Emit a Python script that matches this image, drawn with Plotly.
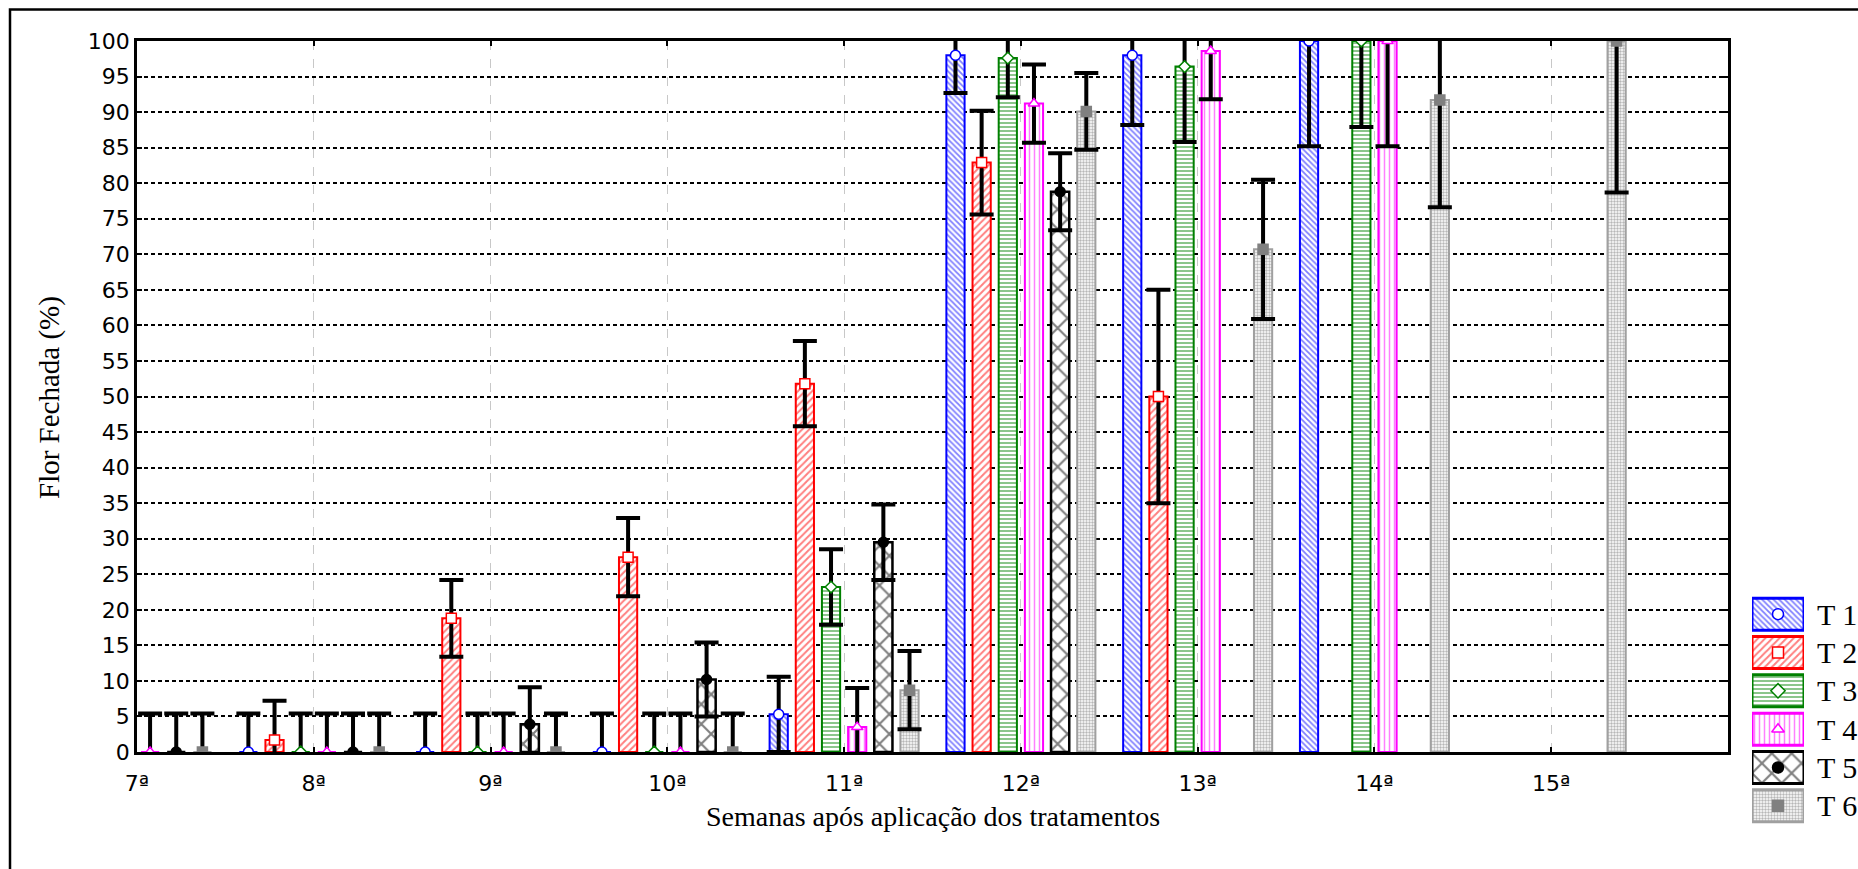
import plotly.graph_objects as go

# ---------------- data ----------------
weeks = [7, 8, 9, 10, 11, 12, 13, 14, 15]
week_labels = ["7ª", "8ª", "9ª", "10ª", "11ª", "12ª", "13ª", "14ª", "15ª"]
treatments = ["T 1", "T 2", "T 3", "T 4", "T 5", "T 6"]

t1_mean = [0, 0, 0, 0, 5.3, 98.0, 98.0, 100, None]
t1_err = [5.4, 5.4, 5.4, 5.4, 5.3, 5.3, 9.8, 14.8, None]
t2_mean = [0, 1.7, 18.8, 27.4, 51.8, 82.9, 50.0, None, None]
t2_err = [5.4, 5.5, 5.4, 5.5, 6.0, 7.3, 15.0, None, None]
t3_mean = [0, 0, 0, 0, 23.2, 97.6, 96.4, 100, None]
t3_err = [5.4, 5.4, 5.4, 5.4, 5.3, 5.5, 10.6, 12.1, None]
t4_mean = [0, 0, 0, 0, 3.5, 91.2, 98.6, 100, None]
t4_err = [5.4, 5.4, 5.4, 5.4, 5.5, 5.5, 6.8, 14.8, None]
t5_mean = [0, 0, 3.9, 10.2, 29.5, 78.8, None, None, None]
t5_err = [5.4, 5.4, 5.2, 5.2, 5.3, 5.4, None, None, None]
t6_mean = [0, 0, 0, 0, 8.7, 90.1, 70.7, 91.7, 100]
t6_err = [5.4, 5.4, 5.4, 5.4, 5.5, 5.4, 9.8, 15.1, 21.3]

means = [t1_mean, t2_mean, t3_mean, t4_mean, t5_mean, t6_mean]
errs = [t1_err, t2_err, t3_err, t4_err, t5_err, t6_err]

# ---------------- styles ----------------
styles = [
    dict(line="#0000ff", lw=2, shape="\\", fg="#0000ff", size=4, sol=0.45,
         sym="circle", mfill="white", mline="#0000ff", ms=10),
    dict(line="#ff0000", lw=2, shape="/", fg="#ff0000", size=5, sol=0.4,
         sym="square", mfill="white", mline="#ff0000", ms=10),
    dict(line="#008000", lw=2, shape="-", fg="#008000", size=4, sol=0.45,
         sym="diamond", mfill="white", mline="#008000", ms=9),
    dict(line="#ff00ff", lw=2, shape="|", fg="#ff00ff", size=5, sol=0.3,
         sym="triangle-up", mfill="white", mline="#ff00ff", ms=10),
    dict(line="#000000", lw=2.5, shape="x", fg="#000000", size=14, sol=0.28,
         sym="circle", mfill="#000000", mline="#000000", ms=10),
    dict(line="#a0a0a0", lw=2, shape=".", fg="#707070", size=3, sol=0.5,
         sym="square", mfill="#808080", mline="#808080", ms=10),
]

SLOT = 0.148
BAR_W = 0.103

W, H = 1858, 869
ML, MR, MT, MB = 137, 8, 41, 40
PW = W - ML - MR
PH = H - MT - MB

def px_x(p):
    return (p - ML) / PW

def px_y(p):
    return 1 - (p - MT) / PH

fig = go.Figure()

# bars with error bars
for i, (name, m, e, st) in enumerate(zip(treatments, means, errs, styles)):
    off = (i - 2.5) * SLOT
    xs = [w + off for w in weeks]
    fig.add_trace(go.Bar(
        x=xs, y=m, width=BAR_W, name=name, showlegend=False,
        marker=dict(color="white", line=dict(color=st["line"], width=st["lw"]),
                    pattern=dict(shape=st["shape"], fgcolor=st["fg"], bgcolor="white",
                                 size=st["size"], solidity=st["sol"], fillmode="overlay")),
        error_y=dict(type="data", array=e, visible=True, color="black",
                     thickness=4, width=12),
        xaxis="x", yaxis="y",
    ))

# markers at top of bars
for i, (name, m, st) in enumerate(zip(treatments, means, styles)):
    off = (i - 2.5) * SLOT
    xs = [w + off for w in weeks]
    fig.add_trace(go.Scatter(
        x=xs, y=m, mode="markers", showlegend=False, cliponaxis=True,
        marker=dict(symbol=st["sym"], color=st["mfill"], size=st["ms"],
                    line=dict(color=st["mline"], width=1.5)),
        xaxis="x", yaxis="y",
    ))

# legend drawn as a small bar chart
fig.add_trace(go.Bar(
    x=[1] * len(treatments), y=treatments, base=0, orientation="h", width=0.833,
    showlegend=False, xaxis="x2", yaxis="y2",
    marker=dict(color="white",
                line=dict(color=[s["line"] for s in styles], width=3),
                pattern=dict(shape=[s["shape"] for s in styles],
                             fgcolor=[s["fg"] for s in styles],
                             bgcolor="white",
                             size=[s["size"] for s in styles],
                             solidity=[s["sol"] for s in styles],
                             fillmode="overlay")),
))
fig.add_trace(go.Scatter(
    x=[0.5] * len(treatments), y=treatments, mode="markers", showlegend=False,
    xaxis="x2", yaxis="y2",
    marker=dict(symbol=[s["sym"] for s in styles], color=[s["mfill"] for s in styles],
                size=11, line=dict(color=[s["mline"] for s in styles], width=1.5)),
))

annotations = []
for name in treatments:
    annotations.append(dict(
        text=name, xref="paper", yref="y2", x=px_x(1815), y=name,
        xanchor="left", yanchor="middle", showarrow=False,
        font=dict(family="Liberation Serif", size=30, color="black"),
    ))

annotations.append(dict(
    text="Flor Fechada (%)", xref="paper", yref="paper",
    x=px_x(50), y=px_y(398), textangle=-90, showarrow=False,
    xanchor="center", yanchor="middle",
    font=dict(family="Liberation Serif", size=29, color="black"),
))
annotations.append(dict(
    text="Semanas após aplicação dos tratamentos", xref="paper", yref="paper",
    x=px_x(933), y=px_y(816), showarrow=False,
    xanchor="center", yanchor="middle",
    font=dict(family="Liberation Serif", size=28, color="black"),
))

fig.update_layout(
    width=W, height=H,
    margin=dict(l=ML, r=MR, t=MT, b=MB),
    paper_bgcolor="white", plot_bgcolor="white",
    barmode="overlay",
    font=dict(family="DejaVu Sans", color="black"),
    xaxis=dict(
        domain=[0, px_x(1728)], anchor="y",
        range=[7, 16], tickvals=weeks, ticktext=week_labels,
        tickfont=dict(family="DejaVu Sans", size=22, color="black"),
        ticks="inside", ticklen=5, tickwidth=2, tickcolor="black",
        showline=True, linecolor="black", linewidth=2.5, mirror="ticks",
        showgrid=True, gridcolor="#c8c8c8", gridwidth=1, griddash="dash",
        zeroline=False, ticklabelstandoff=10,
    ),
    yaxis=dict(
        domain=[px_y(752), 1], anchor="x",
        range=[0, 100], tickvals=list(range(0, 101, 5)),
        tickfont=dict(family="DejaVu Sans", size=22, color="black"),
        ticks="inside", ticklen=5, tickwidth=2, tickcolor="black",
        showline=True, linecolor="black", linewidth=2.5, mirror="ticks",
        showgrid=True, gridcolor="black", gridwidth=2, griddash="4px,3px",
        zeroline=False,
    ),
    xaxis2=dict(domain=[px_x(1752), px_x(1804)], anchor="y2", range=[0, 1],
                visible=False, fixedrange=True),
    yaxis2=dict(domain=[px_y(825), px_y(595)], anchor="x2", type="category",
                categoryorder="array", categoryarray=treatments,
                range=[5.5, -0.5], visible=False, fixedrange=True),
    annotations=annotations,
    shapes=[dict(type="rect", xref="paper", yref="paper",
                 x0=px_x(10), x1=1.2, y0=-0.2, y1=px_y(9.5),
                 line=dict(color="black", width=2.5), fillcolor="rgba(0,0,0,0)",
                 layer="above")],
)

fig.write_html("out.html")
